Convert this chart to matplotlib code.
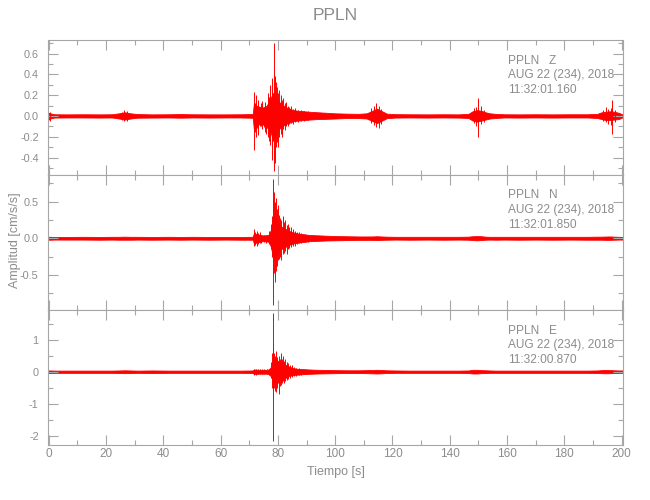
import numpy as np
import matplotlib
matplotlib.use("Agg")
import matplotlib.pyplot as plt
from matplotlib import font_manager
from matplotlib.ticker import MultipleLocator, FixedLocator, FixedFormatter

# ---------------- data ----------------
t_env = [0, 0.5, 2, 6, 12, 18, 22, 24.5, 26.5, 28.5,
         31, 36, 42, 46, 50, 56, 62, 67, 71.2, 71.6,
         72.4, 73.4, 74.6, 75.8, 76.8, 77.6, 78.3, 79.0, 79.8, 80.6,
         81.5, 82.5, 83.5, 84.5, 85.5, 87, 89, 91, 94, 97,
         100, 104, 108, 111, 113, 114.5, 116, 118, 121, 126,
         132, 138, 143, 146.5, 148, 149.5, 151, 152.5, 154, 156,
         159, 164, 170, 176, 182, 188, 191.5, 193, 194.5, 196,
         197.5, 199, 200.3]

z_hi = [0.03, 0.025, 0.016, 0.015, 0.016, 0.015, 0.016, 0.025, 0.035, 0.025,
        0.018, 0.015, 0.016, 0.018, 0.016, 0.015, 0.015, 0.016, 0.018, 0.12,
        0.1, 0.09, 0.08, 0.09, 0.13, 0.18, 0.22, 0.2, 0.16, 0.13,
        0.11, 0.09, 0.075, 0.065, 0.055, 0.05, 0.045, 0.04, 0.035, 0.03,
        0.025, 0.022, 0.02, 0.025, 0.05, 0.07, 0.05, 0.022, 0.017, 0.016,
        0.015, 0.016, 0.015, 0.02, 0.045, 0.055, 0.05, 0.035, 0.025, 0.02,
        0.016, 0.015, 0.016, 0.015, 0.016, 0.016, 0.02, 0.035, 0.04, 0.045,
        0.04, 0.03, 0.015]
z_lo = [-0.035, -0.025, -0.016, -0.015, -0.015, -0.016, -0.015, -0.025, -0.035, -0.025,
        -0.017, -0.016, -0.015, -0.017, -0.015, -0.016, -0.015, -0.015, -0.018, -0.13,
        -0.1, -0.08, -0.08, -0.1, -0.13, -0.17, -0.24, -0.2, -0.15, -0.12,
        -0.1, -0.08, -0.07, -0.06, -0.05, -0.045, -0.04, -0.035, -0.03, -0.028,
        -0.025, -0.02, -0.02, -0.025, -0.05, -0.07, -0.05, -0.022, -0.016, -0.015,
        -0.016, -0.015, -0.016, -0.02, -0.045, -0.055, -0.045, -0.035, -0.025, -0.02,
        -0.015, -0.016, -0.015, -0.016, -0.015, -0.015, -0.02, -0.03, -0.04, -0.04,
        -0.035, -0.03, -0.015]

n_hi = [0.02, 0.02, 0.018, 0.018, 0.02, 0.018, 0.02, 0.02, 0.022, 0.02,
        0.02, 0.018, 0.02, 0.018, 0.02, 0.018, 0.018, 0.018, 0.02, 0.07,
        0.06, 0.05, 0.04, 0.04, 0.05, 0.12, 0.3, 0.3, 0.22, 0.18,
        0.15, 0.13, 0.11, 0.09, 0.08, 0.065, 0.055, 0.045, 0.04, 0.035,
        0.03, 0.028, 0.025, 0.025, 0.025, 0.028, 0.025, 0.022, 0.02, 0.02,
        0.02, 0.02, 0.02, 0.022, 0.028, 0.03, 0.028, 0.022, 0.02, 0.02,
        0.02, 0.02, 0.02, 0.02, 0.02, 0.02, 0.022, 0.022, 0.024, 0.025,
        0.022, 0.02, 0.018]
n_lo = [-0.02, -0.02, -0.018, -0.018, -0.018, -0.02, -0.018, -0.02, -0.02, -0.02,
        -0.018, -0.02, -0.018, -0.02, -0.018, -0.02, -0.018, -0.02, -0.02, -0.07,
        -0.06, -0.05, -0.04, -0.04, -0.05, -0.12, -0.28, -0.28, -0.2, -0.16,
        -0.14, -0.12, -0.1, -0.08, -0.07, -0.06, -0.05, -0.04, -0.035, -0.03,
        -0.028, -0.025, -0.022, -0.022, -0.022, -0.025, -0.022, -0.02, -0.018, -0.02,
        -0.018, -0.02, -0.018, -0.02, -0.025, -0.028, -0.025, -0.02, -0.018, -0.02,
        -0.018, -0.02, -0.018, -0.02, -0.018, -0.02, -0.02, -0.02, -0.022, -0.022,
        -0.02, -0.018, -0.018]

e_hi = [0.04, 0.04, 0.035, 0.035, 0.035, 0.035, 0.035, 0.04, 0.045, 0.04,
        0.035, 0.04, 0.035, 0.035, 0.035, 0.035, 0.035, 0.035, 0.04, 0.07,
        0.065, 0.06, 0.06, 0.06, 0.07, 0.15, 0.35, 0.4, 0.35, 0.3,
        0.27, 0.22, 0.18, 0.14, 0.11, 0.09, 0.08, 0.07, 0.06, 0.055,
        0.05, 0.045, 0.045, 0.05, 0.055, 0.06, 0.055, 0.045, 0.04, 0.035,
        0.035, 0.035, 0.035, 0.04, 0.06, 0.06, 0.05, 0.045, 0.04, 0.035,
        0.035, 0.035, 0.035, 0.035, 0.035, 0.035, 0.04, 0.05, 0.055, 0.05,
        0.045, 0.04, 0.04]
e_lo = [-0.04, -0.04, -0.035, -0.035, -0.035, -0.035, -0.035, -0.04, -0.045, -0.04,
        -0.035, -0.04, -0.035, -0.035, -0.035, -0.035, -0.035, -0.035, -0.04, -0.07,
        -0.065, -0.06, -0.06, -0.06, -0.07, -0.15, -0.3, -0.35, -0.35, -0.3,
        -0.25, -0.2, -0.15, -0.12, -0.1, -0.09, -0.075, -0.065, -0.055, -0.05,
        -0.045, -0.04, -0.04, -0.045, -0.05, -0.055, -0.05, -0.04, -0.035, -0.035,
        -0.035, -0.035, -0.035, -0.04, -0.055, -0.055, -0.045, -0.04, -0.035, -0.035,
        -0.035, -0.035, -0.035, -0.035, -0.035, -0.035, -0.04, -0.045, -0.05, -0.045,
        -0.04, -0.035, -0.035]

# individual peaks (spikes): time, positive peak, negative peak
t_pk_z = [0.3, 25.5, 26.3, 27.2,
          71.5, 71.9, 72.3, 72.7, 73.1, 73.6, 74.0, 74.5, 75.0, 75.5, 76.0, 76.5, 77.0, 77.3, 77.8, 78.1,
          78.5, 78.8, 79.2, 79.6, 80.0, 80.4, 80.9, 81.3, 81.8, 82.3, 82.8, 83.4, 84.0, 84.6, 85.3, 86.0,
          87.0, 88.0, 89.2, 90.5,
          112.5, 113.5, 114.3, 115.2, 116.0,
          148.5, 149.3, 150.0, 150.8, 151.8,
          193.5, 194.5, 195.3, 196.2, 196.8, 197.8]
z_pk_hi = [0.035, 0.04, 0.055, 0.045,
           0.23, 0.12, 0.2, 0.1, 0.15, 0.08, 0.12, 0.14, 0.09, 0.13, 0.1, 0.22, 0.18, 0.3, 0.36, 0.25,
           0.70, 0.38, 0.33, 0.28, 0.22, 0.25, 0.2, 0.15, 0.17, 0.12, 0.13, 0.1, 0.09, 0.1, 0.07, 0.08,
           0.06, 0.06, 0.05, 0.05,
           0.08, 0.1, 0.12, 0.1, 0.07,
           0.08, 0.09, 0.17, 0.1, 0.06,
           0.06, 0.09, 0.07, 0.08, 0.15, 0.06]
z_pk_lo = [-0.045, -0.04, -0.05, -0.05,
           -0.33, -0.15, -0.2, -0.12, -0.18, -0.1, -0.1, -0.13, -0.11, -0.15, -0.17, -0.2, -0.24, -0.28, -0.42, -0.3,
           -0.53, -0.45, -0.3, -0.25, -0.3, -0.2, -0.17, -0.2, -0.13, -0.14, -0.1, -0.1, -0.08, -0.07, -0.08, -0.06,
           -0.06, -0.05, -0.05, -0.04,
           -0.07, -0.09, -0.11, -0.12, -0.08,
           -0.07, -0.1, -0.2, -0.08, -0.06,
           -0.05, -0.06, -0.08, -0.09, -0.17, -0.06]

t_pk_n = [71.7, 72.1, 72.6, 73.1, 73.6, 74.2, 75.0, 76.0, 77.0, 77.6, 77.9, 78.2, 78.4, 78.7, 79.0,
          79.3, 79.7, 80.0, 80.4, 80.8, 81.2, 81.6, 82.0, 82.5, 83.0, 83.5, 84.0, 84.6, 85.2, 85.8,
          86.5, 87.3, 88.2, 89.3, 90.5]
n_pk_hi = [0.12, 0.08, 0.1, 0.07, 0.08, 0.05, 0.05, 0.05, 0.1, 0.2, 0.3, 0.55, 0.81, 0.63, 0.5,
           0.55, 0.4, 0.45, 0.32, 0.28, 0.25, 0.3, 0.22, 0.25, 0.18, 0.2, 0.15, 0.15, 0.12, 0.1,
           0.09, 0.08, 0.07, 0.06, 0.05]
n_pk_lo = [-0.11, -0.09, -0.1, -0.08, -0.06, -0.06, -0.05, -0.06, -0.08, -0.15, -0.25, -0.5, -0.92, -0.48, -0.6,
           -0.45, -0.38, -0.3, -0.28, -0.25, -0.3, -0.22, -0.2, -0.18, -0.22, -0.15, -0.13, -0.12, -0.1, -0.1,
           -0.08, -0.07, -0.06, -0.05, -0.05]

t_pk_e = [71.8, 72.4, 73.0, 73.7, 74.5, 75.3, 76.2, 77.0, 77.6, 77.9, 78.2, 78.4, 78.7, 79.0, 79.4,
          79.8, 80.2, 80.6, 81.0, 81.4, 81.8, 82.2, 82.6, 83.1, 83.6, 84.2, 84.8, 85.5, 86.3, 87.2,
          88.2, 89.5]
e_pk_hi = [0.1, 0.08, 0.09, 0.07, 0.08, 0.07, 0.08, 0.1, 0.3, 0.6, 1.82, 0.9, 0.6, 0.5, 0.65,
           0.45, 0.5, 0.4, 0.6, 0.4, 0.48, 0.35, 0.4, 0.3, 0.28, 0.22, 0.2, 0.15, 0.13, 0.11,
           0.1, 0.09]
e_pk_lo = [-0.1, -0.09, -0.07, -0.08, -0.07, -0.08, -0.07, -0.1, -0.2, -0.5, -0.8, -2.17, -0.52, -0.6, -0.62,
           -0.5, -0.7, -0.45, -0.4, -0.35, -0.3, -0.35, -0.28, -0.25, -0.22, -0.2, -0.16, -0.14, -0.12, -0.1,
           -0.09, -0.08]

components = ["Z", "N", "E"]
start_times = ["11:32:01.160", "11:32:01.850", "11:32:00.870"]
date_label = "AUG 22 (234), 2018"
station = "PPLN"
x_ticks = [0, 20, 40, 60, 80, 100, 120, 140, 160, 180, 200]
y_ticks = [[0.6, 0.4, 0.2, 0.0, -0.2, -0.4], [0.5, 0.0, -0.5], [1, 0, -1, -2]]
y_ticklabels = [["0.6", "0.4", "0.2", "0.0", "-0.2", "-0.4"], ["0.5", "0.0", "-0.5"], ["1", "0", "-1", "-2"]]

# ---------------- style ----------------
names = {f.name for f in font_manager.fontManager.ttflist}
fam = [n for n in ["Liberation Sans Narrow", "DejaVu Sans Condensed", "Liberation Sans"] if n in names] + ["DejaVu Sans"]
plt.rcParams["font.family"] = fam
plt.rcParams["axes.unicode_minus"] = False

GRAY = "#a6a6a6"
TXT = "#8c8c8c"
RED = "#ff0000"

W, H = 650, 500
fig = plt.figure(figsize=(6.5, 5.0), dpi=100)

left_px, right_px = 47.7, 623.3
edges_px = [40.3, 175.0, 310.3, 445.0]
ylims = [(-0.568, 0.727), (-0.986, 0.866), (-2.29, 1.92)]
minors = [0.1, 0.25, 0.5]

envs = [(z_hi, z_lo), (n_hi, n_lo), (e_hi, e_lo)]
peaks = [(t_pk_z, z_pk_hi, z_pk_lo), (t_pk_n, n_pk_hi, n_pk_lo), (t_pk_e, e_pk_hi, e_pk_lo)]

axes = []
for i in range(3):
    top, bot = edges_px[i], edges_px[i + 1]
    ax = fig.add_axes([left_px / W, 1 - bot / H, (right_px - left_px) / W, (bot - top) / H])
    axes.append(ax)
    hi, lo = envs[i]
    ax.fill_between(t_env, lo, hi, color=RED, lw=0.6, edgecolor=RED)
    tp, ph, pl = peaks[i]
    ax.vlines(tp, pl, ph, color=RED, lw=0.7)
    ax.set_xlim(-0.4, 200.6)
    ax.set_ylim(*ylims[i])
    ax.xaxis.set_major_locator(FixedLocator(x_ticks))
    ax.xaxis.set_minor_locator(MultipleLocator(10))
    ax.yaxis.set_major_locator(FixedLocator(y_ticks[i]))
    ax.yaxis.set_major_formatter(FixedFormatter(y_ticklabels[i]))
    ax.yaxis.set_minor_locator(MultipleLocator(minors[i]))
    for s in ax.spines.values():
        s.set_color(GRAY)
        s.set_linewidth(0.8)
    ax.tick_params(which="both", direction="in", top=True, right=True, color=GRAY, width=0.8,
                   labelcolor=TXT)
    ax.tick_params(which="major", length=7.2)
    ax.tick_params(which="minor", length=3.6)
    ax.tick_params(axis="y", labelsize=7.8, pad=6.5)
    if i < 2:
        ax.tick_params(axis="x", labelbottom=False)
    else:
        ax.tick_params(axis="x", labelsize=8.5, pad=2.5)
        ax.set_xlabel("Tiempo [s]", color=TXT, fontsize=9, labelpad=4)
    # annotation
    tx = 508 / W
    y0 = top + 20.5
    for k, txt in enumerate([f"{station}   {components[i]}", date_label, start_times[i]]):
        fig.text(tx, 1 - (y0 + 14.5 * k) / H, txt, color=TXT, fontsize=8.6, ha="left", va="center")

fig.text(335.5 / W, 1 - 15 / H, station, color=TXT, fontsize=12.5, ha="center", va="center")
fig.text(15 / W, 1 - 240 / H, "Amplitud [cm/s/s]", color=TXT, fontsize=9, rotation=90,
         ha="center", va="center")

fig.savefig("out.png", dpi=100)
